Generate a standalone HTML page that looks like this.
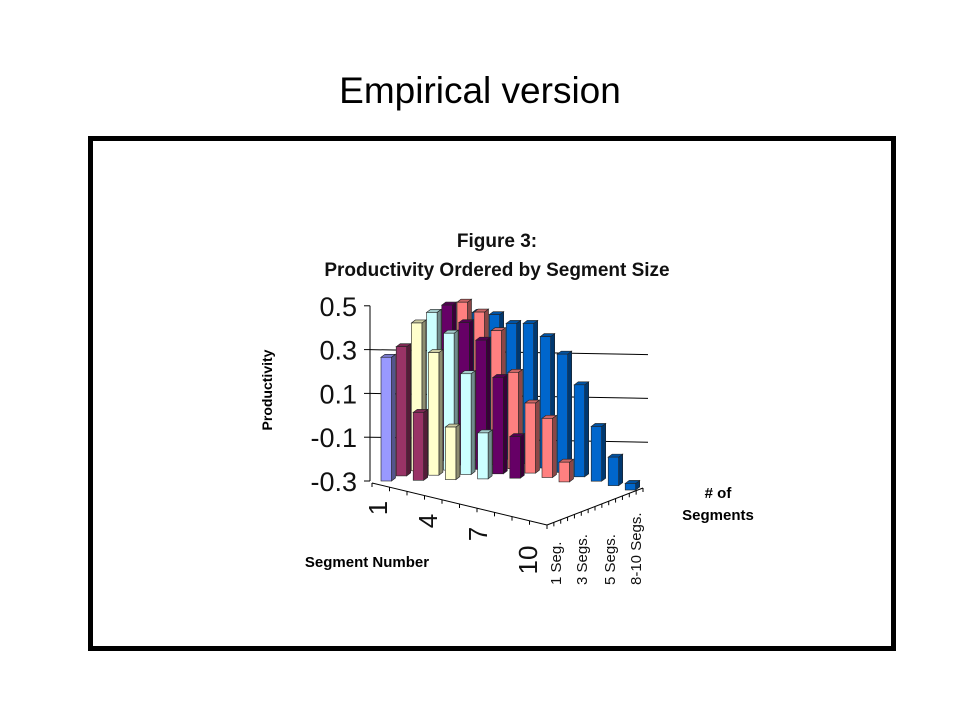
<!DOCTYPE html>
<html><head><meta charset="utf-8"><style>
html,body{margin:0;padding:0;background:#fff;width:960px;height:720px;overflow:hidden;font-family:"Liberation Sans",Arial,sans-serif}
</style></head><body>
<svg width="960" height="720" viewBox="0 0 960 720">
<text x="480" y="103" text-anchor="middle" font-size="37">Empirical version</text>
<rect x="90.5" y="138.5" width="803" height="510" fill="#fff" stroke="#000" stroke-width="5"/>
<text x="497" y="247" text-anchor="middle" font-size="19" font-weight="bold" fill="#111">Figure 3:</text>
<text x="497" y="276" text-anchor="middle" font-size="19" font-weight="bold" fill="#111">Productivity Ordered by Segment Size</text>
<text transform="translate(272,390) rotate(-90)" text-anchor="middle" font-size="14" font-weight="bold">Productivity</text>
<text x="367" y="567" text-anchor="middle" font-size="15" font-weight="bold">Segment Number</text>
<text x="718" y="498" text-anchor="middle" font-size="15" font-weight="bold"># of</text>
<text x="718" y="520" text-anchor="middle" font-size="15" font-weight="bold">Segments</text>
<g id="axes"></g>
<g id="bars"></g>
</svg>
<script>
const seriesNames=["1 Seg.","2 Segs.","3 Segs.","4 Segs.","5 Segs.","6-7 Segs.","8-10 Segs."];
const yTicks=[0.5,0.3,0.1,-0.1,-0.3];
const segLabels=["1","4","7","10"];
const s1=[0.265];
const s2=[0.29,0.01];
const s3=[0.375,0.26,-0.06];
const s4=[0.40,0.325,0.16,-0.09];
const s5=[0.41,0.35,0.29,0.14,-0.11];
const s6=[0.40,0.375,0.31,0.14,0.02,-0.03,-0.21];
const s7=[0.33,0.34,0.32,0.34,0.30,0.24,0.12,-0.05,-0.17,-0.27];
const seriesVals=[s1,s2,s3,s4,s5,s6,s7];
const colors=["#9999ff","#993366","#ffffcc","#ccffff","#660066","#ff8080","#0066cc"];
const NS="http://www.w3.org/2000/svg";
const yMin=-0.3,yMax=0.5,floorY=481,pxPerUnit=219;
function yScale(v){return floorY-(v-yMin)*pxPerUnit;}
function xPos(k,s){return 381+k*15.2+s*17;}
function baseY(k,s){return floorY+s*4.4-k*5.1;}
function shade(hex,f){const n=parseInt(hex.slice(1),16);let r=(n>>16)&255,g=(n>>8)&255,b=n&255;return `rgb(${Math.round(r*f)},${Math.round(g*f)},${Math.round(b*f)})`;}
function mk(tag,attrs,parent){const e=document.createElementNS(NS,tag);for(const k in attrs)e.setAttribute(k,attrs[k]);parent.appendChild(e);return e;}
const axes=document.getElementById('axes');
yTicks.forEach((t,i)=>{
  const y=yScale(t);
  if(t>yMin&&t<yMax){
    const g=mk('line',{x1:370,y1:y,x2:648,y2:y+5,stroke:'#000','stroke-width':1},axes);
    
    
  }
  const tk=mk('line',{x1:364,y1:y,x2:370,y2:y,stroke:'#000'},axes);
  
  
  const tx=mk('text',{x:357,y:y+10,'text-anchor':'end','font-size':27,fill:'#111'},axes);
  tx.textContent=(t<0?'-':'')+Math.abs(t).toFixed(1);
  
  
});
const ya=mk('line',{x1:370,y1:yScale(yMax),x2:370,y2:floorY,stroke:'#000'},axes);


const fe=mk('line',{x1:372,y1:483,x2:547,y2:525,stroke:'#000'},axes);


for(let i=0;i<=10;i++){
  const x=372+i*17.5,y=483+i*4.2;
  const t=mk('line',{x1:x,y1:y,x2:x,y2:y+4,stroke:'#000'},axes);
  
  
}
const de=mk('line',{x1:547,y1:525,x2:643,y2:488,stroke:'#000'},axes);


for(let i=0;i<=14;i++){
  const x=547+i*96/14,y=525-i*37/14;
  const t=mk('line',{x1:x,y1:y,x2:x,y2:y+4,stroke:'#000'},axes);
  
  
}
const segPos=[[378,508],[428,521],[478,534],[528,560]];
segLabels.forEach((l,i)=>{
  const t=mk('text',{transform:`translate(${segPos[i][0]+9},${segPos[i][1]}) rotate(-90)`,'text-anchor':'middle','font-size':26,fill:'#111'},axes);
  t.textContent=l;
  
  
});
const serX=[561,587,615,641];
[0,2,4,6].forEach((k,i)=>{
  const t=mk('text',{transform:`translate(${serX[i]},585) rotate(-90)`,'text-anchor':'start','font-size':15,fill:'#111'},axes);
  t.textContent=seriesNames[k];
  
  
});
const bars=document.getElementById('bars');
const W=10.5,D=4,DY=3;
for(let k=seriesVals.length-1;k>=0;k--){
  const vals=seriesVals[k];
  for(let s=0;s<vals.length;s++){
    const x=xPos(k,s),b=baseY(k,s),top=yScale(vals[s])+(b-floorY);
    const g=mk('g',{},bars);
    
    
    const c=colors[k];
    mk('polygon',{points:`${x+W},${top} ${x+W+D},${top-DY} ${x+W+D},${b-DY} ${x+W},${b}`,fill:shade(c,0.55),stroke:'#222','stroke-width':0.6},g);
    mk('polygon',{points:`${x},${top} ${x+D},${top-DY} ${x+W+D},${top-DY} ${x+W},${top}`,fill:shade(c,0.8),stroke:'#222','stroke-width':0.6},g);
    mk('rect',{x:x,y:top,width:W,height:Math.max(0,b-top),fill:c,stroke:'#222','stroke-width':0.6},g);
  }
}
</script>
</body></html>
